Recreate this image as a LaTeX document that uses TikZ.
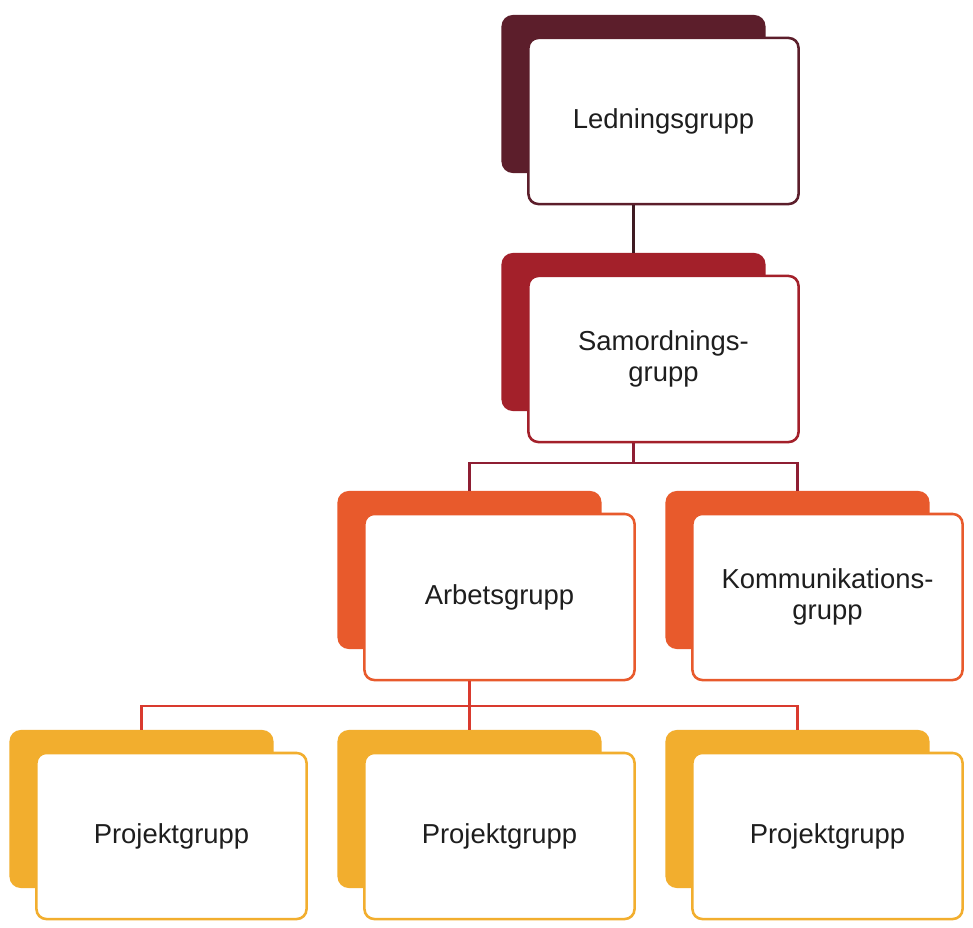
\documentclass[tikz,border=0pt]{standalone}
\usepackage{fontspec}
\setmainfont{Liberation Sans}
\usepackage{tikz}
\usetikzlibrary{positioning, calc}
\definecolor{leadmaroon}{HTML}{5C1E2B}
\definecolor{coordred}{HTML}{A3202A}
\definecolor{workorange}{HTML}{E85A2C}
\definecolor{projgold}{HTML}{F2AE2E}
\definecolor{linkdark}{HTML}{3E1A22}
\definecolor{linkmaroon}{HTML}{8E1E33}
\definecolor{linkred}{HTML}{D93A2E}
\definecolor{textdark}{HTML}{1E1E1E}

\begin{document}
\begin{tikzpicture}[x=0.025cm, y=-0.025cm,
    cardback/.style={rounded corners=8pt, minimum width=6.6cm, minimum height=3.95cm, inner sep=0pt},
    cardfront/.style={draw, line width=1.8pt, fill=white, rounded corners=7pt, minimum width=6.75cm, minimum height=4.15cm, inner sep=0pt, align=center, text=textdark, font=\fontsize{19.5}{21.5}\selectfont},
    link/.style={line width=1.6pt}]
    \useasboundingbox[fill=white] (0,0) rectangle (973,927);

    % Level 1: Ledningsgrupp
    \node[cardback, fill=leadmaroon] (led-s) at (633.5,94) {};
    \node[cardfront, draw=leadmaroon] (led) at ([shift={(30,27)}]led-s) {Ledningsgrupp};

    % Level 2: Samordningsgrupp
    \node[cardback, fill=coordred] (sam-s) at (633.5,332) {};
    \node[cardfront, draw=coordred] (sam) at ([shift={(30,27)}]sam-s) {Samordnings-\\grupp};

    % Level 3: Arbetsgrupp and Kommunikationsgrupp
    \node[cardback, fill=workorange] (arb-s) at (469.5,570) {};
    \node[cardfront, draw=workorange] (arb) at ([shift={(30,27)}]arb-s) {Arbetsgrupp};
    \node[cardback, fill=workorange] (kom-s) at (797.5,570) {};
    \node[cardfront, draw=workorange] (kom) at ([shift={(30,27)}]kom-s) {Kommunikations-\\grupp};

    % Level 4: Projektgrupp
    \foreach \i/\x in {1/141.5, 2/469.5, 3/797.5} {
        \node[cardback, fill=projgold] (proj\i-s) at (\x,809) {};
        \node[cardfront, draw=projgold] (proj\i) at ([shift={(30,27)}]proj\i-s) {Projektgrupp};
    }

    % Connectors
    \coordinate (bus1) at (0,463);
    \coordinate (bus2) at (0,706);
    \draw[link, linkdark] (led-s |- led.south) -- (sam-s.north);
    \draw[link, linkmaroon] (sam-s |- sam.south) -- (sam-s |- bus1);
    \draw[link, linkmaroon] (arb-s.north) |- (kom-s.north |- bus1) -- (kom-s.north);
    \draw[link, linkred] (arb-s |- arb.south) -- (proj2-s.north);
    \draw[link, linkred] (proj1-s.north) |- (proj3-s.north |- bus2) -- (proj3-s.north);
\end{tikzpicture}
\end{document}
